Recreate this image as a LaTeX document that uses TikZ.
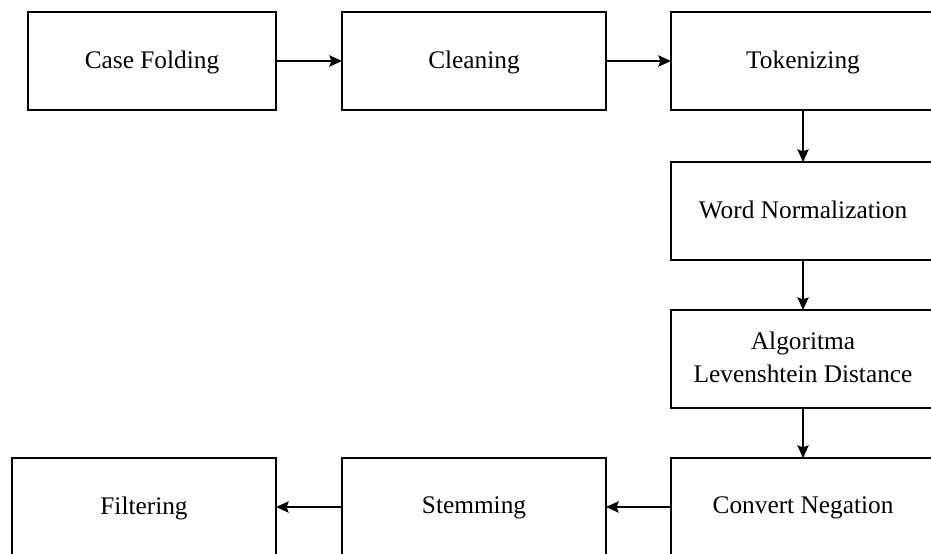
\documentclass[tikz,border=0pt]{standalone}
\usepackage{fontspec}
\setmainfont{Liberation Serif}
\usetikzlibrary{arrows.meta,positioning}

\begin{document}
\begin{tikzpicture}[->,>={Stealth[length=9.5pt,width=8.5pt,inset=1.5pt]},line width=1pt,
                    step box/.style={draw,minimum width=198pt,minimum height=73.5pt,
                    inner sep=0pt,outer sep=0pt,align=center,text depth=0.25em,
                    font=\fontsize{19}{25}\selectfont}]

  \useasboundingbox (0,0) rectangle (698.25pt,-414.75pt);
  \clip (0,0) rectangle (698.25pt,-414.75pt);

  \node[step box,minimum width=186pt] (case)  at (114pt,-45.75pt) {Case Folding};
  \node[step box] (clean) [right=49.5pt of case]  {Cleaning};
  \node[step box] (token) [right=48.75pt of clean] {Tokenizing};
  \node[step box] (norm)  [below=39pt of token]   {Word Normalization};
  \node[step box] (lev)   [below=37.5pt of norm]  {Algoritma\\Levenshtein Distance};
  \node[step box] (neg)   [below=37.5pt of lev]   {Convert Negation};
  \node[step box] (stem)  [left=48.75pt of neg]   {Stemming};
  \node[step box] (filt)  [left=49.5pt of stem]   {Filtering};

  \path (case)  edge (clean)
        (clean) edge (token)
        (token) edge (norm)
        (norm)  edge (lev)
        (lev)   edge (neg)
        (neg)   edge (stem)
        (stem)  edge (filt);
\end{tikzpicture}
\end{document}
